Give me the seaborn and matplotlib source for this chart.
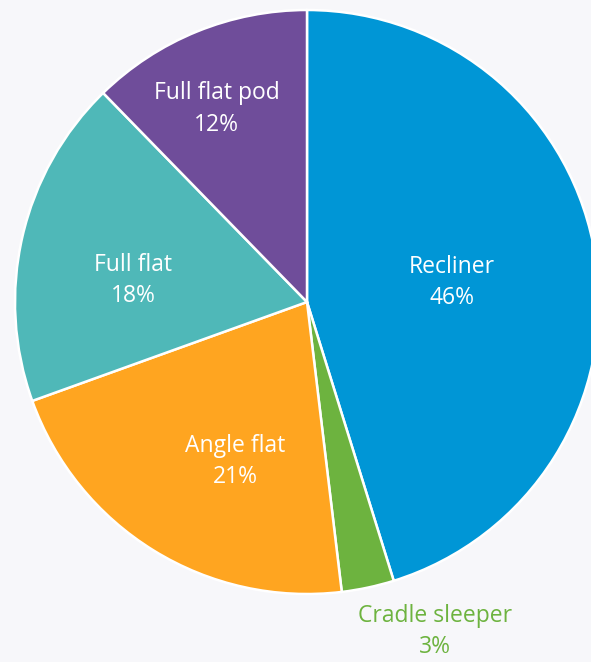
import matplotlib
matplotlib.use('Agg')
import matplotlib.pyplot as plt
import seaborn as sns
import numpy as np

# ---------------------------------------------------------------------------
# Data
# ---------------------------------------------------------------------------

categories = ["Recliner", "Cradle sleeper", "Angle flat", "Full flat", "Full flat pod"]
shares = [45.2, 2.9, 21.4, 18.2, 12.3]
shown_pct = [46, 3, 21, 18, 12]

colors = ["#0096d6", "#6db33f", "#ffa520", "#4fb8b8", "#6f4d9a"]
label_colors = ["white", "#6db33f", "white", "white", "white"]
# label placement as fraction of radius and angular nudge (deg)
label_r = [0.50, 1.21, 0.60, 0.60, 0.73]
label_dtheta = [-1.0, 9.2, 7.5, 6.0, 3.0]

BG = "#f7f7fa"

sns.set_style("white")
plt.rcParams["font.family"] = ["Open Sans", "DejaVu Sans"]

fig = plt.figure(figsize=(5.91, 6.62), dpi=100, facecolor=BG)
ax = fig.add_axes([0, 0, 1, 1])
ax.set_facecolor(BG)

cx, cy, R = 307, 662 - 302, 292
wedges, _ = ax.pie(
    shares,
    colors=colors,
    startangle=90,
    counterclock=False,
    center=(cx, cy),
    radius=R,
    wedgeprops={"edgecolor": "white", "linewidth": 1.8},
)

for w, name, pct, col, r, dt in zip(wedges, categories, shown_pct, label_colors, label_r, label_dtheta):
    mid = np.deg2rad((w.theta1 + w.theta2) / 2 + dt)
    x = cx + r * R * np.cos(mid)
    y = cy + r * R * np.sin(mid)
    ax.text(x, y, f"{name}\n{pct}%", ha="center", va="center",
            color=col, fontsize=16.5, linespacing=1.4)

ax.set_xlim(0, 591)
ax.set_ylim(0, 662)
ax.set_aspect("equal")
ax.axis("off")

fig.savefig("out.png", dpi=100, facecolor=BG)
plt.close()
